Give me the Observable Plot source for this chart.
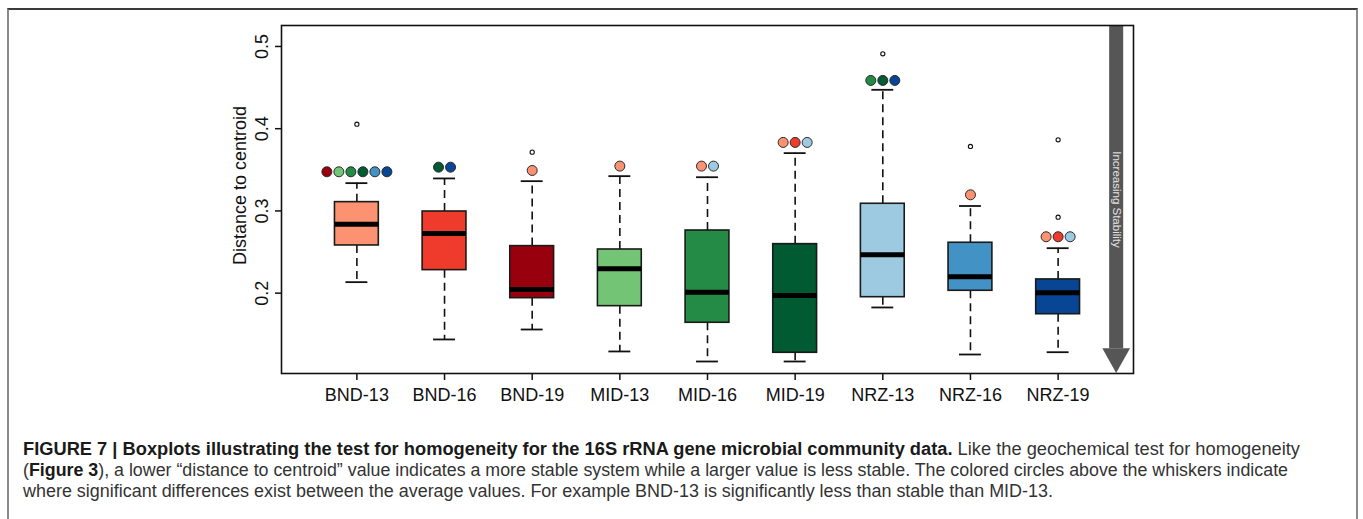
<!DOCTYPE html>
<html>
<head>
<meta charset="utf-8">
<script src="https://cdn.jsdelivr.net/npm/d3@7"></script>
<script src="https://cdn.jsdelivr.net/npm/@observablehq/plot@0.6"></script>
<style>
  html, body { margin: 0; padding: 0; background: #fff; width: 1363px; height: 519px; overflow: hidden; }
  #frame { position: absolute; left: 7px; top: 8px; width: 1347px; height: 600px;
           border-top: 2px solid #3a3a3a; border-left: 2px solid #8a8a8a; border-right: 2px solid #8a8a8a; }
  #chart { position: absolute; left: 0; top: 0; }
  #caption { position: absolute; left: 23px; top: 439px; font-family: "Liberation Sans Narrow", "Liberation Sans", Arial, sans-serif;
             font-size: 17.5px; line-height: 21px; color: #333; }
  #caption .ln { white-space: nowrap; transform-origin: 0 0; width: max-content; }
  #caption b { color: #1a1a1a; }
</style>
</head>
<body>
<div id="frame"></div>
<div id="chart"></div>
<div id="caption">
  <div class="ln" data-w="1277"><b>FIGURE 7 | Boxplots illustrating the test for homogeneity for the 16S rRNA gene microbial community data.</b> Like the geochemical test for homogeneity</div>
  <div class="ln" data-w="1265">(<b>Figure 3</b>), a lower “distance to centroid” value indicates a more stable system while a larger value is less stable. The colored circles above the whiskers indicate</div>
  <div class="ln" data-w="1030">where significant differences exist between the average values. For example BND-13 is significantly less than stable than MID-13.</div>
</div>
<script>
// ---- data ----
const categories = ["BND-13","BND-16","BND-19","MID-13","MID-16","MID-19","NRZ-13","NRZ-16","NRZ-19"];
const colors = ["#FC9272","#EF3B2C","#99000D","#74C476","#238B45","#005A32","#9ECAE1","#4292C6","#084594"];
const lowerWhisker = [0.2134,0.1437,0.1558,0.1291,0.1169,0.1169,0.1826,0.1254,0.1282];
const q1           = [0.2580,0.2280,0.1939,0.1842,0.1640,0.1275,0.1951,0.2029,0.1744];
const median       = [0.2839,0.2726,0.2045,0.2296,0.2012,0.1972,0.2467,0.2200,0.2005];
const q3           = [0.3107,0.2993,0.2572,0.2531,0.2762,0.2596,0.3087,0.2613,0.2167];
const upperWhisker = [0.3338,0.3395,0.3362,0.3423,0.3410,0.3703,0.4473,0.3060,0.2547];
const outlierGroup = ["BND-13","BND-19","NRZ-13","NRZ-16","NRZ-19","NRZ-19"];
const outlierValue = [0.4055,0.3715,0.4911,0.3784,0.3865,0.2924];
const sigValue = [0.3476,0.3532,0.3492,0.3545,0.3545,0.3833,0.4587,0.3196,0.2686];
const sigGroups = [
  ["BND-19","MID-13","MID-16","MID-19","NRZ-16","NRZ-19"],
  ["MID-19","NRZ-19"],
  ["BND-13"],
  ["BND-13"],
  ["BND-13","NRZ-13"],
  ["BND-13","BND-16","NRZ-13"],
  ["MID-16","MID-19","NRZ-19"],
  ["BND-13"],
  ["BND-13","BND-16","NRZ-13"]
];
const yTicks = [0.2, 0.3, 0.4, 0.5];
const yLabel = "Distance to centroid";
const arrowLabel = "Increasing Stability";

// ---- layout constants ----
const xDomain = [0.14, 9.86];
const yDomain = [0.1023, 0.5255];
const boxHalf = 0.25, capHalf = 0.125, sigStep = 0.137;
const arrowX = 9.668, shaftHalf = 0.08, headHalf = 0.158, headBase = 0.1324;

const colorOf = Object.fromEntries(categories.map((c, i) => [c, colors[i]]));
const boxes = categories.map((c, i) => ({
  c, x: i + 1, lo: lowerWhisker[i], q1: q1[i], med: median[i], q3: q3[i], hi: upperWhisker[i], fill: colors[i]
}));
const outliers = outlierGroup.map((g, i) => ({x: categories.indexOf(g) + 1, v: outlierValue[i]}));
const sigDots = sigGroups.flatMap((gs, i) => gs.map((g, j) => ({
  x: i + 1 + (j - (gs.length - 1) / 2) * sigStep, v: sigValue[i], fill: colorOf[g]
})));
const head = [
  {x: arrowX - headHalf, y1: headBase, y2: headBase},
  {x: arrowX, y1: headBase, y2: yDomain[0]},
  {x: arrowX + headHalf, y1: headBase, y2: headBase}
];

const chart = Plot.plot({
  width: 1363,
  height: 410,
  marginLeft: 281,
  marginRight: 230,
  marginTop: 25,
  marginBottom: 37,
  style: {fontFamily: "'Liberation Sans', Arial, Helvetica, sans-serif", fontSize: "18px", background: "transparent", overflow: "visible"},
  x: {type: "linear", domain: xDomain},
  y: {domain: yDomain},
  marks: [
    // arrow
    Plot.rect([0], {x1: arrowX - shaftHalf, x2: arrowX + shaftHalf, y1: headBase, y2: yDomain[1], fill: "#565656"}),
    Plot.areaY(head, {x: "x", y1: "y1", y2: "y2", fill: "#565656", curve: "linear"}),
    Plot.text([arrowLabel], {x: [arrowX], frameAnchor: "middle", text: d => d, rotate: 90, fill: "#e2e2e2", fontSize: 11.5, textAnchor: "middle", lineAnchor: "middle"}),
    // whiskers
    Plot.ruleX(boxes, {x: "x", y1: "q3", y2: "hi", stroke: "#111", strokeWidth: 1.6, strokeDasharray: "8,5"}),
    Plot.ruleX(boxes, {x: "x", y1: "q1", y2: "lo", stroke: "#111", strokeWidth: 1.6, strokeDasharray: "8,5"}),
    Plot.ruleY(boxes, {y: "hi", x1: d => d.x - capHalf, x2: d => d.x + capHalf, stroke: "#111", strokeWidth: 1.8}),
    Plot.ruleY(boxes, {y: "lo", x1: d => d.x - capHalf, x2: d => d.x + capHalf, stroke: "#111", strokeWidth: 1.8}),
    // boxes
    Plot.rect(boxes, {x1: d => d.x - boxHalf, x2: d => d.x + boxHalf, y1: "q1", y2: "q3", fill: "fill", stroke: "#1a1a1a", strokeWidth: 1.6}),
    Plot.ruleY(boxes, {y: "med", x1: d => d.x - boxHalf, x2: d => d.x + boxHalf, stroke: "#000", strokeWidth: 5}),
    // outliers
    Plot.dot(outliers, {x: "x", y: "v", r: 2.1, fill: "#fff", stroke: "#111", strokeWidth: 1.1}),
    // significance circles
    Plot.dot(sigDots, {x: "x", y: "v", r: 5, fill: "fill", stroke: "#2a2a2a", strokeWidth: 1}),
    // axes
    Plot.frame({stroke: "#111", strokeWidth: 1.6}),
    Plot.axisX({ticks: categories.map((c, i) => i + 1), tickFormat: d => categories[d - 1], tickSize: 7, tickPadding: 8, label: null, color: "#111", strokeWidth: 1.5, fontSize: 18}),
    Plot.axisY({ticks: yTicks, tickFormat: d => d.toFixed(1), tickSize: 6, tickPadding: 8, tickRotate: -90, label: null, color: "#111", strokeWidth: 1.5, fontSize: 18}),
    Plot.text([yLabel], {frameAnchor: "left", text: d => d, rotate: -90, dx: -36, dy: -14, textAnchor: "middle", lineAnchor: "bottom", fill: "#111", fontSize: 18})
  ]
});
document.getElementById("chart").appendChild(chart);

// fit caption lines to their measured widths in the figure
document.querySelectorAll("#caption .ln").forEach(el => {
  const w = el.getBoundingClientRect().width;
  const target = +el.dataset.w;
  el.style.transform = `scaleX(${target / w})`;
});
</script>
</body>
</html>
